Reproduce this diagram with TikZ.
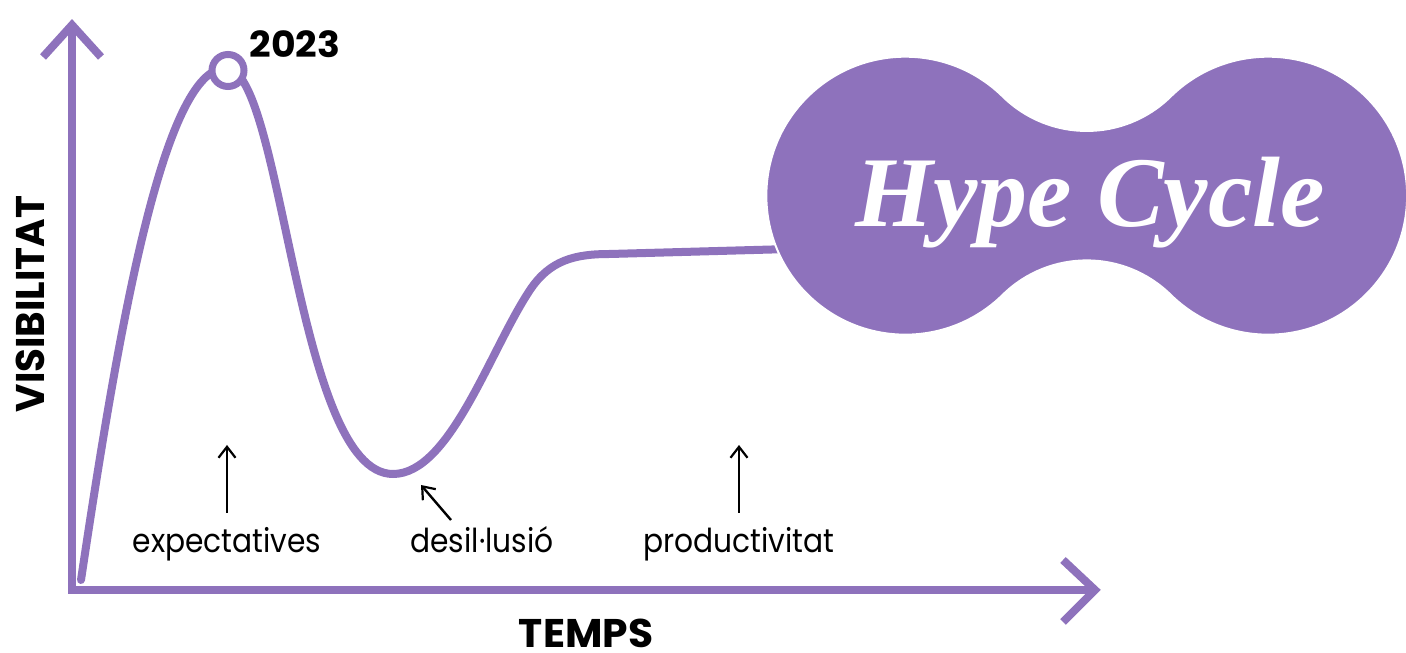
\documentclass[tikz,border=0pt]{standalone}
\usepackage{fontspec}
\setmainfont{Poppins}
\newfontfamily\serifbi[BoldItalicFont={Liberation Serif Bold Italic}]{Liberation Serif}
\usetikzlibrary{arrows.meta}
\definecolor{hypepurple}{HTML}{8E72BC}
\tikzset{
  axisline/.style={draw=hypepurple,line width=8pt,line cap=butt,line join=miter},
  curveline/.style={draw=hypepurple,line width=8pt,line cap=round},
  thinarrow/.style={draw=black,line width=2.4pt,-{Straight Barb[length=11pt,width=17pt,line width=2.2pt]}},
  smalllabel/.style={font=\fontsize{33}{36}\selectfont,inner sep=0pt,anchor=base,xscale=.9,text=black},
  axislabel/.style={font=\fontsize{40}{44}\bfseries\selectfont,inner sep=0pt,anchor=base,text=black},
}
\begin{document}
\begin{tikzpicture}[x=1pt,y=1pt]
\useasboundingbox (0,0) rectangle (1406,653);
% curve
\coordinate (c0) at (81,73);
\coordinate (cpeak) at (226,585);
\coordinate (cbot) at (393,179);
\coordinate (cmid) at (530,363);
\coordinate (cflat) at (610,399);
\coordinate (cend) at (790,404);
\draw[curveline] (c0) .. controls (118,320) and (163,585) .. (cpeak)
  .. controls (283,585) and (296,179) .. (cbot)
  .. controls (450,179) and (490,303) .. (cmid)
  .. controls (550,393) and (575,399) .. (cflat) -- (cend);
% axes
\coordinate (origin) at (72,63);
\coordinate (ytip) at (72,628);
\coordinate (xtip) at (1095,63);
\draw[axisline] (72,59) -- (72,628);
\draw[axisline] (68,63) -- (1093,63);
\draw[axisline] (43,596) -- (ytip) -- (101,596);
\draw[axisline] (1063,93) -- (xtip) -- (1063,31);
% peak marker
\node[circle,draw=hypepurple,line width=7pt,fill=white,minimum size=32pt,inner sep=0pt] (marker) at (228,582.5) {};
\node[font=\fontsize{36}{38}\bfseries\selectfont,inner sep=0pt,anchor=base,xscale=1.05] (year) at (295,595) {2023};
% blob
\filldraw[fill=hypepurple,draw=white,line width=2pt] (1002.8,556.4) arc[start angle=45.47,end angle=314.53,radius=139pt]
  arc[start angle=134.53,end angle=45.47,radius=119.7pt]
  arc[start angle=225.47,end angle=494.53,radius=139pt]
  arc[start angle=314.53,end angle=225.47,radius=119.7pt] -- cycle;
\node[font=\fontsize{100}{106}\selectfont\serifbi\bfseries\itshape,text=white,inner sep=0pt,anchor=base] (title) at (1090,426) {Hype Cycle};
% labels
\node[axislabel,rotate=90,xscale=.97] (vis) at (44,349) {VISIBILITAT};
\node[axislabel,xscale=1.02] (temps) at (586,5) {TEMPS};
\node[smalllabel] (l1) at (227,100) {expectatives};
\node[smalllabel] (l2) at (482,100) {desil·lusió};
\node[smalllabel] (l3) at (739,100) {productivitat};
\coordinate (a1) at (227,208);
\coordinate (a2) at (421,168);
\coordinate (a3) at (739,208);
\coordinate (s1) at (227,140);
\coordinate (s2) at (451,133);
\coordinate (s3) at (739,140);
\draw[thinarrow] (s1) -- (a1);
\draw[thinarrow] (s2) -- (a2);
\draw[thinarrow] (s3) -- (a3);
\end{tikzpicture}
\end{document}
